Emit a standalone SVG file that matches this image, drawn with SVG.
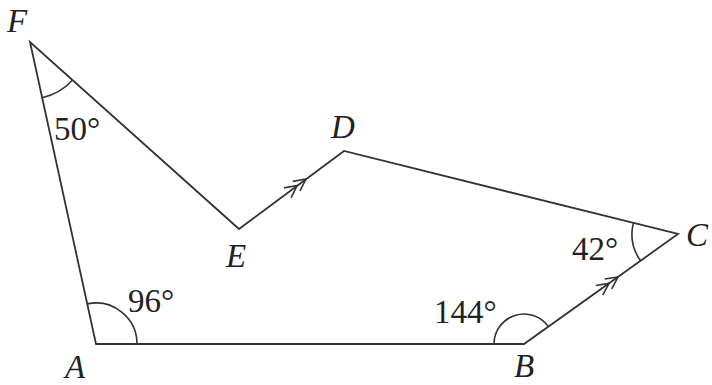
<svg xmlns="http://www.w3.org/2000/svg" width="712" height="385" viewBox="0 0 712 385">
<style>
.ln{fill:none;stroke:#333;stroke-width:1.8;stroke-linejoin:miter}
.arc{fill:none;stroke:#333;stroke-width:1.6}
.lbl{font-family:"Liberation Serif","Times New Roman",serif;font-size:33px;font-style:italic;fill:#222}
.ang{font-family:"Liberation Serif","Times New Roman",serif;font-size:33px;fill:#222}
</style>
<defs>
<path id="chev" d="M-12,-6 L0,0 L-12,6 M-23,-6 L-11,0 L-23,6" fill="none" stroke="#333" stroke-width="1.6"/>
</defs>
<rect width="712" height="385" fill="#fff"/>
<g id="connectors">
<path class="ln" d="M96,344 L30,42 L239,229 L344,151 L678,234 L524,344 Z"/>
<use href="#chev" transform="translate(306,179) rotate(-36.6)"/>
<use href="#chev" transform="translate(618,277) rotate(-35.5)"/>
</g>
<g id="angles">
<path class="arc" d="M42.1,97.7 A57,57 0 0 0 72.5,80"/>
<path class="arc" d="M87.3,303.9 A41,41 0 0 1 137,344"/>
<path class="arc" d="M494,344 A30,30 0 0 1 548.4,326.6"/>
<path class="arc" d="M633.4,222.9 A46,46 0 0 0 640.5,260.7"/>
</g>
<g id="F"><text class="lbl" x="7" y="32">F</text><text class="ang" x="54" y="140">50°</text></g>
<g id="A"><text class="lbl" x="65" y="378">A</text><text class="ang" x="128" y="312">96°</text></g>
<g id="B"><text class="lbl" x="514" y="377">B</text><text class="ang" x="434" y="323">144°</text></g>
<g id="C"><text class="lbl" x="686" y="246">C</text><text class="ang" x="572" y="260">42°</text></g>
<g id="D"><text class="lbl" x="331" y="138">D</text></g>
<g id="E"><text class="lbl" x="226" y="267">E</text></g>
</svg>
